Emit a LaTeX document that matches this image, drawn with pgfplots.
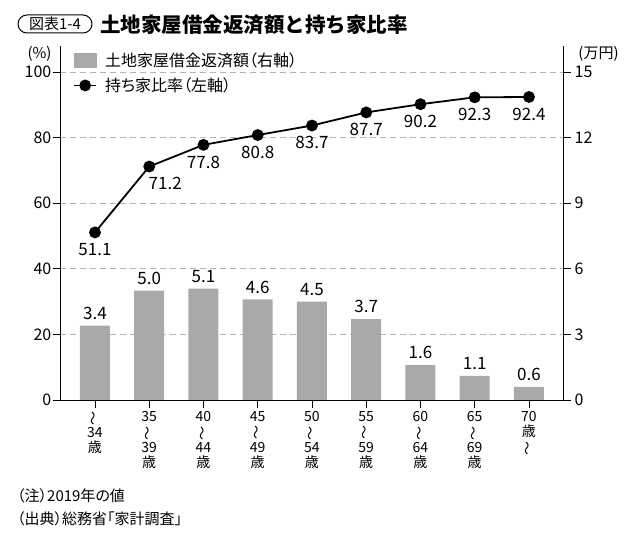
\documentclass[border=0pt]{standalone}
\usepackage{fontspec}
\usepackage{pgfplots}
\usepackage{pgfplotstable}
\pgfplotsset{compat=1.18}
\setmainfont{Noto Sans CJK JP}
\newfontfamily\paltfont[RawFeature=+palt]{Noto Sans CJK JP}

\definecolor{barcol}{HTML}{A9A9AC}
\definecolor{gridcol}{HTML}{B4B4B4}
\newcommand\wave{\rotatebox[origin=c]{90}{～}}
\newcommand\fs[1]{\fontsize{#1bp}{#1bp}\selectfont}

% 土地家屋借金返済額 (万円, 右軸)
\pgfplotstableread{
x y
0 3.4
1 5.0
2 5.1
3 4.6
4 4.5
5 3.7
6 1.6
7 1.1
8 0.6
}\debt

% 持ち家比率 (%, 左軸); dx = label shift in bp
\pgfplotstableread{
x y dx
0 51.1 0
1 71.2 16
2 77.8 0
3 80.8 0
4 83.7 0
5 87.7 0
6 90.2 0
7 92.3 0
8 92.4 0
}\ownrate

\begin{document}
\begin{tikzpicture}
\useasboundingbox (0,0) rectangle (640bp,544bp);

% title
\draw[line width=1bp, rounded corners=9bp] (18bp,511bp) rectangle (92bp,529bp);
\node[inner sep=0pt, font=\fs{15}] at (55bp,520bp) {図表1-4};
\node[inner sep=0pt, anchor=west, font=\fs{20.5}\bfseries] at (100bp,519bp) {土地家屋借金返済額と持ち家比率};

% unit labels
\node[inner sep=0pt, font=\fs{15}] at (39.5bp,490.5bp) {(\%)};
\node[inner sep=0pt, font=\fs{15}] at (598.5bp,490.5bp) {(万円)};

% notes
\node[inner sep=0pt, anchor=west, font=\paltfont\fs{15}] at (17bp,48bp) {（注）2019年の値};
\node[inner sep=0pt, anchor=west, font=\paltfont\fs{15}] at (17bp,25bp) {（出典）総務省「家計調査」};

% right axis: bars
\begin{axis}[
    at={(60bp,144bp)}, anchor=south west,
    scale only axis, width=503bp, height=353.5bp,
    xmin=-0.645, xmax=8.627,
    ymin=0, ymax=16.17,
    axis x line=none,
    axis y line*=right,
    axis line style={-, line width=1bp},
    ytick={0,3,...,15},
    ymajorgrids,
    major grid style={gridcol, line width=0.8bp, dash pattern=on 6bp off 4bp},
    tick align=outside, major tick length=7.5bp,
    tick style={black, line width=0.8bp},
    /pgf/number format/assume math mode=true,
    yticklabel style={font=\fs{16}, inner sep=4bp},
    ybar, bar width=30bp,
]
\addplot[fill=barcol, draw=none,
    nodes near coords={\pgfmathprintnumber[fixed,fixed zerofill,precision=1]{\pgfplotspointmeta}},
    every node near coord/.append style={font=\fs{17}, inner sep=0pt, yshift=6bp, black}
] table[x=x, y=y] {\debt};
\end{axis}

% left axis: line
\begin{axis}[
    at={(60bp,144bp)}, anchor=south west,
    scale only axis, width=503bp, height=353.5bp,
    xmin=-0.645, xmax=8.627,
    ymin=0, ymax=107.8,
    axis x line*=bottom, axis y line*=left,
    axis line style={-, line width=1bp},
    ytick={0,20,...,100},
    xtick={0,...,8},
    xticklabels={
        {\wave\\34\\歳},
        {35\\\wave\\39\\歳},
        {40\\\wave\\44\\歳},
        {45\\\wave\\49\\歳},
        {50\\\wave\\54\\歳},
        {55\\\wave\\59\\歳},
        {60\\\wave\\64\\歳},
        {65\\\wave\\69\\歳},
        {70\\歳\\\wave}
    },
    xticklabel style={align=center, font=\fontsize{14bp}{15.5bp}\selectfont},
    tick align=outside, major tick length=7.5bp,
    tick style={black, line width=0.8bp},
    /pgf/number format/assume math mode=true,
    yticklabel style={font=\fs{16}, inner sep=1bp},
    legend style={at={(0.03,1)}, anchor=north west, draw=none, fill=none,
        inner sep=0pt, xshift=-2bp, yshift=-4bp, row sep=6bp,
        font=\paltfont\fs{16}},
    legend cell align=left,
]
\addlegendimage{legend image code/.code={\fill[barcol] (0bp,-7bp) rectangle (22bp,7bp);
    \path (28bp,0bp);}}
\addlegendentry{土地家屋借金返済額（右軸）}
\addplot[black, line width=1.8bp, mark=*, mark size=5bp,
    legend image code/.code={\draw[black, line width=1.8bp] (0bp,0bp) -- (22bp,0bp);
        \fill[black] (11bp,0bp) circle (5bp); \path (28bp,0bp);},
    visualization depends on={\thisrow{dx} \as \labeldx},
    nodes near coords={\pgfmathprintnumber[fixed,fixed zerofill,precision=1]{\pgfplotspointmeta}},
    every node near coord/.append style={font=\fs{17}, inner sep=0pt, anchor=north,
        yshift=-10bp, xshift=\labeldx bp}
] table[x=x, y=y] {\ownrate};
\addlegendentry{持ち家比率（左軸）}
\end{axis}
\end{tikzpicture}
\end{document}
